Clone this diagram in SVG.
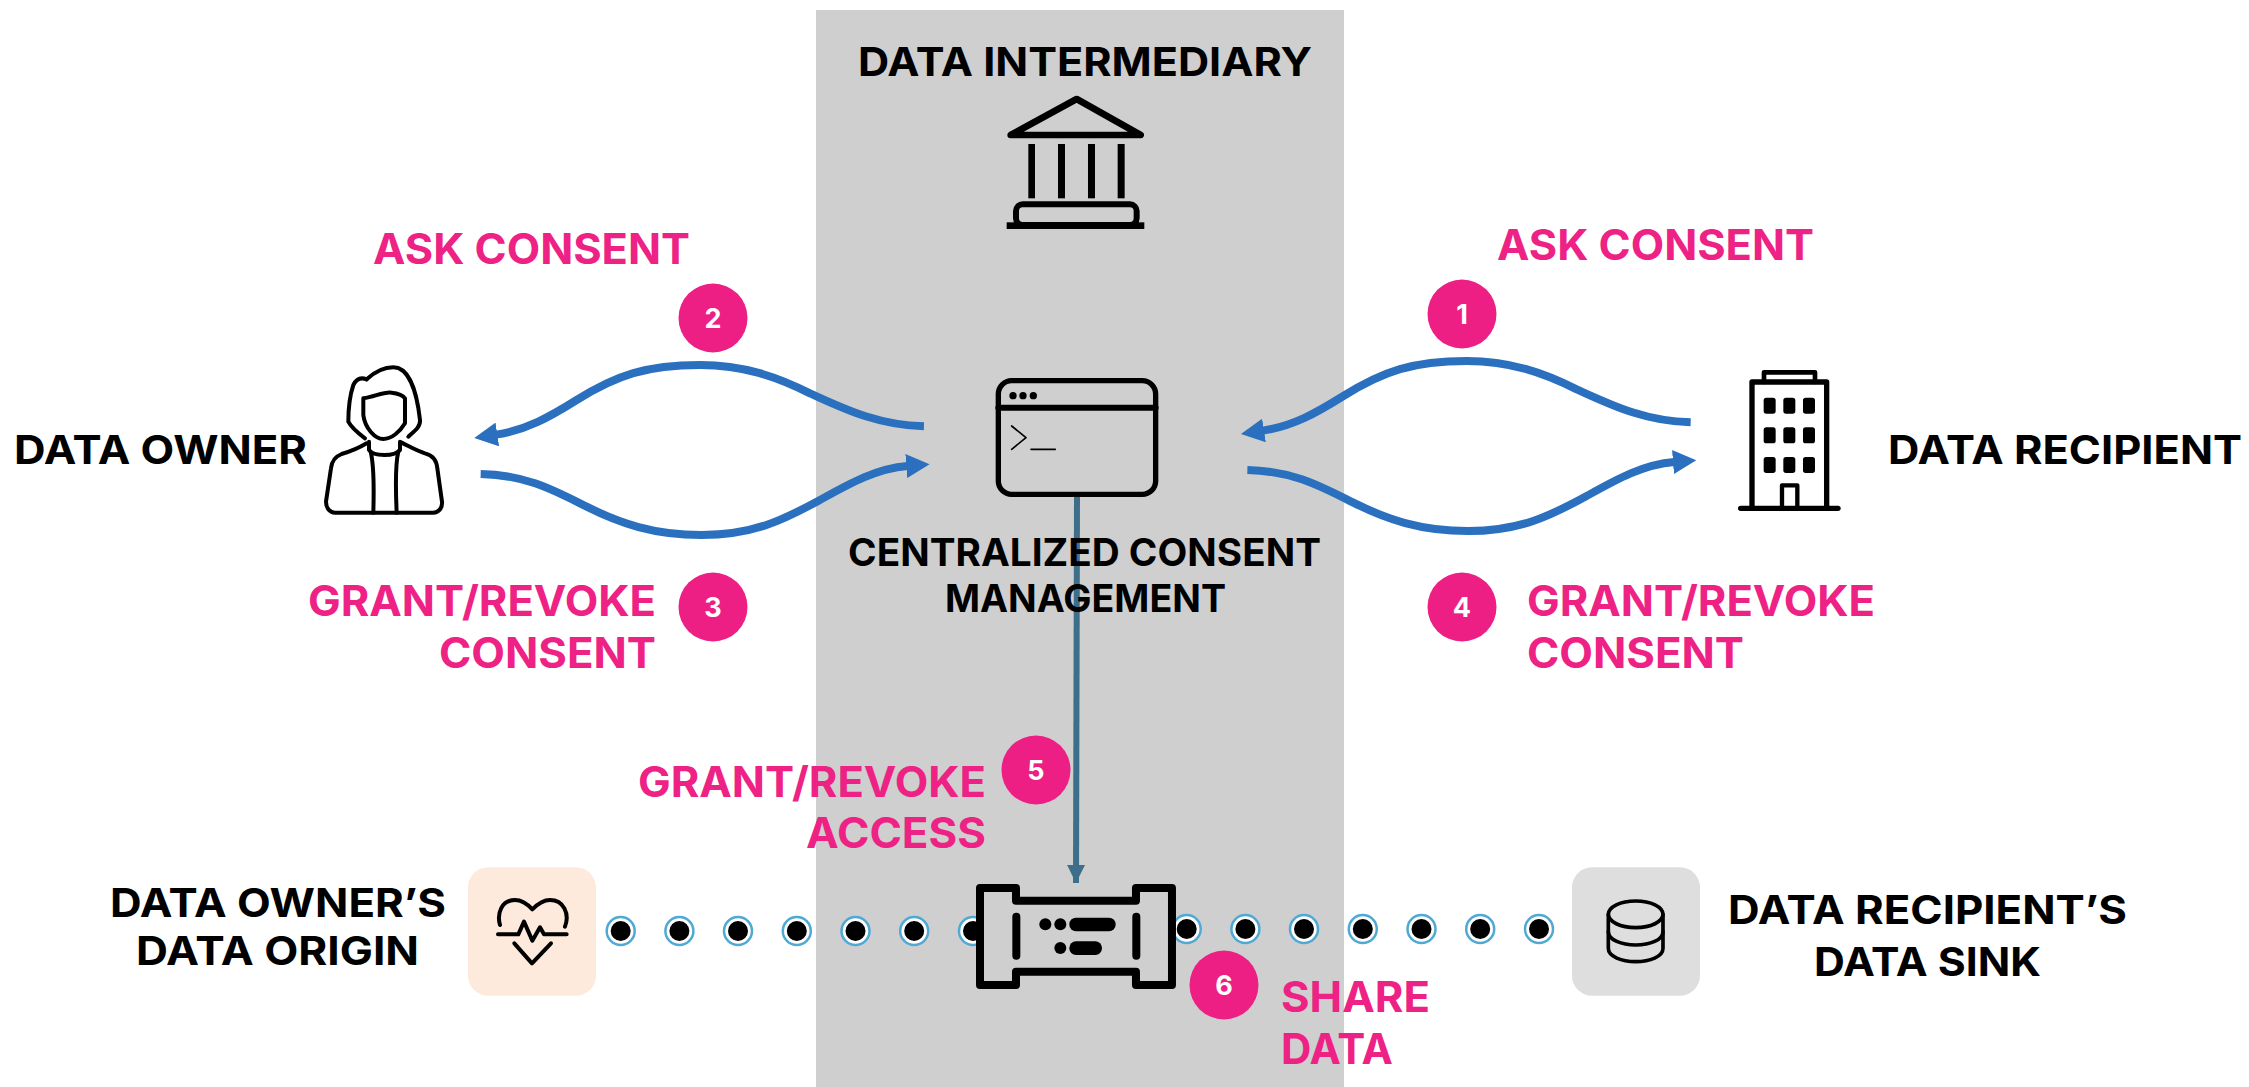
<svg xmlns="http://www.w3.org/2000/svg" width="2249" height="1087" viewBox="0 0 2249 1087">
<style>
text{font-family:"Inter","Liberation Sans",sans-serif;font-weight:700}
.k{fill:#000;font-size:40px}
.m{font-size:38.5px}
.p{fill:#ee2285;font-size:42px}
.n{fill:#fff;font-size:27px;text-anchor:middle}
.b{fill:#ee1f84}
.i{fill:none;stroke:#000;stroke-linecap:round;stroke-linejoin:round}
.f{fill:#000}
.c{fill:none;stroke:#2a70bf;stroke-width:24}
.d{fill:#fff;stroke:#4fa9d4;stroke-width:2.5}
</style>
<defs>
<marker id="ab" markerUnits="userSpaceOnUse" markerWidth="72" markerHeight="72" refX="4" refY="36" orient="auto"><path d="M0 0L70 36L0 72Z" fill="#2a70bf"/></marker>
<marker id="at" markerUnits="userSpaceOnUse" markerWidth="20" markerHeight="20" refX="18" refY="9" orient="auto"><path d="M0 0L18 9L0 18Z" fill="#3d6f8a"/></marker>
<g id="dot"><circle class="d" r="14"/><circle r="10" fill="#000"/></g>
</defs>
<rect id="panel" x="816" y="10" width="528" height="1077" fill="#cfcfcf"/>
<g id="connectors">
<g transform="translate(460 340) scale(.3333)">
<path class="c" marker-end="url(#ab)" d="M1392 259C1250 255 1150 205 1050 160C950 110 850 75 720 75C560 75 470 105 350 180C270 230 200 270 108 284"/>
<path class="c" marker-end="url(#ab)" d="M62 402C200 405 280 450 380 500C480 550 580 585 725 585C880 585 970 540 1080 480C1170 430 1250 385 1343 378"/>
</g>
<g transform="translate(1226.7 336) scale(.3333)">
<path class="c" marker-end="url(#ab)" d="M1392 259C1250 255 1150 205 1050 160C950 110 850 75 720 75C560 75 470 105 350 180C270 230 200 270 108 284"/>
<path class="c" marker-end="url(#ab)" d="M62 402C200 405 280 450 380 500C480 550 580 585 725 585C880 585 970 540 1080 480C1170 430 1250 385 1343 378"/>
</g>
<path fill="none" stroke="#3d6f8a" stroke-width="6" marker-end="url(#at)" d="M1077 497L1076 883"/>
<g id="share-dots">
<use href="#dot" x="620.7" y="931"/><use href="#dot" x="679.4" y="931"/><use href="#dot" x="738" y="931"/><use href="#dot" x="796.8" y="931"/><use href="#dot" x="855.5" y="931"/><use href="#dot" x="914.2" y="931"/><use href="#dot" x="973" y="931"/>
<use href="#dot" x="1186.7" y="929"/><use href="#dot" x="1245.4" y="929"/><use href="#dot" x="1304" y="929"/><use href="#dot" x="1362.8" y="929"/><use href="#dot" x="1421.5" y="929"/><use href="#dot" x="1480.2" y="929"/><use href="#dot" x="1539" y="929"/>
</g>
</g>
<g id="data-intermediary">
<text class="k" x="858" y="76" textLength="454" lengthAdjust="spacingAndGlyphs">DATA INTERMEDIARY</text>
<g transform="translate(980 80) scale(.3333)">
<path class="i" stroke-width="20" d="M92 165L290 57L482 165Z"/>
<rect class="f" x="145" y="192" width="20" height="163"/><rect class="f" x="234" y="192" width="21" height="163"/><rect class="f" x="324" y="192" width="21" height="163"/><rect class="f" x="413" y="192" width="21" height="163"/>
<rect class="i" stroke-width="18" x="108" y="373" width="362" height="62" rx="20"/>
<rect class="f" x="80" y="427" width="413" height="20"/>
</g>
</g>
<g id="data-owner">
<text class="k" x="14" y="464" textLength="293" lengthAdjust="spacingAndGlyphs">DATA OWNER</text>
<g class="i" stroke-width="12" transform="translate(300 340) scale(.3333)">
<path d="M200 118C225 95 250 82 280 82C325 82 350 150 360 240C362 260 345 272 325 290"/>
<path d="M200 118C185 112 170 115 160 135C150 165 145 210 145 245C155 265 175 280 195 295"/>
<path d="M190 175C225 170 250 155 275 158C295 160 310 168 315 175L315 250C300 275 275 297 250 297C225 297 195 265 190 225Z"/>
<path d="M207 305L207 330C220 350 285 350 300 330L300 305"/>
<path d="M200 310C175 325 150 335 125 342C105 350 95 365 93 385L78 485C78 505 90 518 105 518L400 518C415 518 428 505 426 485L412 385C410 360 395 345 375 340C350 332 330 320 305 308"/>
<path d="M212 335C222 375 222 450 220 518M295 335C285 375 287 450 290 518"/>
</g>
</g>
<g id="data-recipient">
<text class="k" x="1888" y="464" textLength="354" lengthAdjust="spacingAndGlyphs">DATA RECIPIENT</text>
<g transform="translate(1720 350) scale(.3333)">
<path class="i" stroke-width="16" d="M96 471V96H320V471"/>
<path class="i" stroke-width="14" d="M132 96V67H285V96"/>
<g class="f"><rect x="131" y="143" width="36" height="48" rx="8"/><rect x="190" y="143" width="36" height="48" rx="8"/><rect x="249" y="143" width="36" height="48" rx="8"/><rect x="131" y="232" width="36" height="48" rx="8"/><rect x="190" y="232" width="36" height="48" rx="8"/><rect x="249" y="232" width="36" height="48" rx="8"/><rect x="131" y="321" width="36" height="48" rx="8"/><rect x="190" y="321" width="36" height="48" rx="8"/><rect x="249" y="321" width="36" height="48" rx="8"/></g>
<path class="i" stroke-width="13" d="M186 470V406H232V470"/>
<path class="i" stroke-width="16" d="M62 475H354"/>
</g>
</g>
<g id="consent-management">
<g transform="translate(970 360) scale(.3333)">
<rect class="i" stroke-width="16" x="85" y="62" width="472" height="341" rx="40"/>
<path class="i" stroke-width="18" d="M85 143H557"/>
<circle class="f" cx="129" cy="107" r="11"/><circle class="f" cx="159" cy="107" r="11"/><circle class="f" cx="190" cy="107" r="11"/>
<path class="i" stroke-width="5" d="M125 198L168 233L125 268M183 268H256"/>
</g>
<text class="k m" x="848" y="566" textLength="473" lengthAdjust="spacingAndGlyphs">CENTRALIZED CONSENT</text>
<text class="k m" x="945" y="612" textLength="281" lengthAdjust="spacingAndGlyphs">MANAGEMENT</text>
</g>
<g id="data-origin">
<text class="k" x="110" y="917" textLength="336" lengthAdjust="spacingAndGlyphs">DATA OWNER’S</text>
<text class="k" x="136" y="965" textLength="283" lengthAdjust="spacingAndGlyphs">DATA ORIGIN</text>
<g transform="translate(450 850) scale(.3333)">
<rect x="54" y="52" width="384" height="385" rx="60" fill="#fdeadc"/>
<g class="i" stroke-width="12">
<path d="M150 225C140 190 155 150 195 150C215 150 235 165 247 178C260 165 280 150 300 150C340 150 360 190 345 230"/>
<path d="M144 253H205L222 215L247 272L270 232L282 253H350"/>
<path d="M193 280L246 340L303 280"/>
</g>
</g>
</g>
<g id="data-sink">
<g transform="translate(1500 850) scale(.3333)">
<rect x="216" y="52" width="384" height="385" rx="60" fill="#dedede"/>
<g class="i" stroke-width="11">
<ellipse cx="407" cy="193" rx="82" ry="40"/>
<path d="M325 193V295C325 320 365 335 407 335C450 335 489 320 489 295V193"/>
<path d="M325 245C325 270 365 285 407 285C450 285 489 270 489 245"/>
</g>
</g>
<text class="k" x="1728" y="924" textLength="399" lengthAdjust="spacingAndGlyphs">DATA RECIPIENT’S</text>
<text class="k" x="1814" y="976" textLength="227" lengthAdjust="spacingAndGlyphs">DATA SINK</text>
</g>
<g id="gateway">
<g transform="translate(940 860) scale(.3333)">
<path fill="#cfcfcf" stroke="#000" stroke-width="24" stroke-linejoin="round" d="M120 84H228V122H588V84H696V375H588V335H228V375H120Z"/>
<path class="i" stroke-width="24" d="M229 170V287M589 170V287"/>
<g class="f"><circle cx="316" cy="193" r="18"/><circle cx="361" cy="193" r="18"/><rect x="388" y="173" width="139" height="41" rx="20"/><circle cx="361" cy="264" r="18"/><rect x="388" y="244" width="98" height="41" rx="20"/></g>
</g>
</g>
<g id="step-labels">
<text class="p" x="373" y="264" textLength="317" lengthAdjust="spacingAndGlyphs">ASK CONSENT</text>
<text class="p" x="1497" y="260" textLength="317" lengthAdjust="spacingAndGlyphs">ASK CONSENT</text>
<text class="p" x="308" y="616" textLength="348" lengthAdjust="spacingAndGlyphs">GRANT/REVOKE</text>
<text class="p" x="439" y="668" textLength="217" lengthAdjust="spacingAndGlyphs">CONSENT</text>
<text class="p" x="1527" y="616" textLength="348" lengthAdjust="spacingAndGlyphs">GRANT/REVOKE</text>
<text class="p" x="1527" y="668" textLength="217" lengthAdjust="spacingAndGlyphs">CONSENT</text>
<text class="p" x="638" y="797" textLength="348" lengthAdjust="spacingAndGlyphs">GRANT/REVOKE</text>
<text class="p" x="806" y="848" textLength="180" lengthAdjust="spacingAndGlyphs">ACCESS</text>
<text class="p" x="1281" y="1012" textLength="149" lengthAdjust="spacingAndGlyphs">SHARE</text>
<text class="p" x="1281" y="1064" textLength="112" lengthAdjust="spacingAndGlyphs">DATA</text>
</g>
<g id="badges">
<g id="step-1"><circle class="b" cx="1462" cy="314" r="34.5"/><text class="n" x="1462" y="324">1</text></g>
<g id="step-2"><circle class="b" cx="713" cy="318" r="34.5"/><text class="n" x="713" y="328">2</text></g>
<g id="step-3"><circle class="b" cx="713" cy="607" r="34.5"/><text class="n" x="713" y="617">3</text></g>
<g id="step-4"><circle class="b" cx="1462" cy="607" r="34.5"/><text class="n" x="1462" y="617">4</text></g>
<g id="step-5"><circle class="b" cx="1036" cy="770" r="34.5"/><text class="n" x="1036" y="780">5</text></g>
<g id="step-6"><circle class="b" cx="1224" cy="985" r="34.5"/><text class="n" x="1224" y="995">6</text></g>
</g>
</svg>
